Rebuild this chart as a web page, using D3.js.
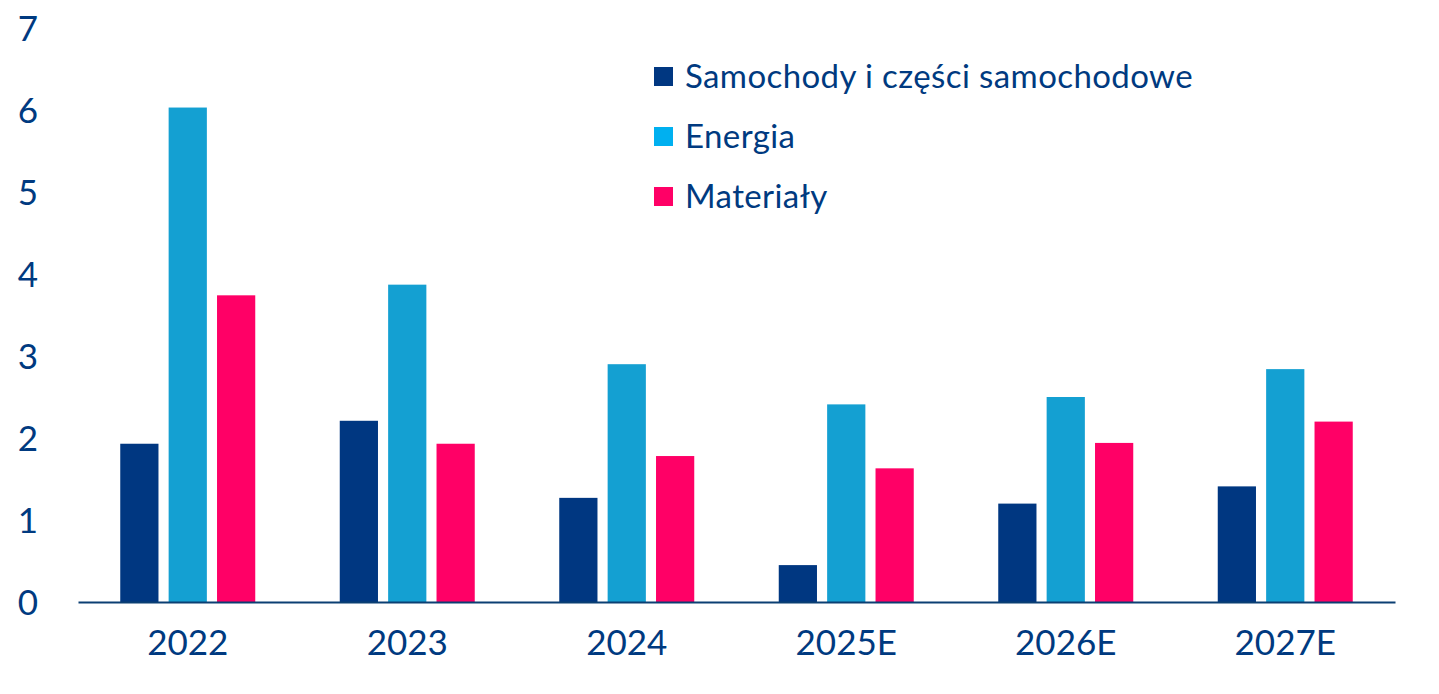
<!DOCTYPE html>
<html>
<head>
<meta charset="utf-8">
<script src="https://cdn.jsdelivr.net/npm/d3@7"></script>
<style>
  body { margin: 0; background: #fff; }
  text { font-family: Lato, "Noto Sans", sans-serif; fill: #003A80; }
</style>
</head>
<body>
<svg width="1439" height="694"></svg>
<script>
(function (d3) {
  'use strict';

  const years = ['2022', '2023', '2024', '2025E', '2026E', '2027E'];
  const seriesNames = ['Samochody i części samochodowe', 'Energia', 'Materiały'];
  const samochody = [1.93, 2.21, 1.27, 0.45, 1.20, 1.41];
  const energia = [6.03, 3.87, 2.90, 2.41, 2.50, 2.84];
  const materialy = [3.74, 1.93, 1.78, 1.63, 1.94, 2.20];
  const yTicks = [0, 1, 2, 3, 4, 5, 6, 7];

  const barColors = ['#003781', '#14A0D2', '#FF0066'];
  const swatchColors = ['#003781', '#00B0F0', '#FF0066'];

  const svg = d3.select('svg');
  const margin = {top: 28, right: 44, bottom: 92, left: 78};
  const width = +svg.attr('width');
  const height = +svg.attr('height');
  const innerWidth = width - margin.left - margin.right;
  const innerHeight = height - margin.top - margin.bottom;

  const rows = years.map((y, i) => ({
    year: y,
    values: [samochody[i], energia[i], materialy[i]]
  }));

  const xScale = d3.scaleBand()
      .domain(years)
      .range([0, innerWidth])
      .paddingInner(0)
      .paddingOuter(0);

  // three bars of ~38px with ~10px gaps inside each 219px band
  const groupWidth = 135;
  const xInner = d3.scaleBand()
      .domain(d3.range(3))
      .range([0, groupWidth])
      .paddingInner(0.21);

  const yScale = d3.scaleLinear()
      .domain([0, 7])
      .range([innerHeight, 0]);

  const g = svg.append('g')
      .attr('transform', `translate(${margin.left},${margin.top})`);

  // y axis labels
  const yAxis = d3.axisLeft(yScale)
      .tickValues(yTicks)
      .tickSize(0)
      .tickPadding(40)
      .tickFormat(d3.format('d'));
  const yAxisG = g.append('g').call(yAxis);
  yAxisG.select('.domain').remove();
  yAxisG.selectAll('text')
      .style('font-size', '35px')
      .attr('dy', '0.36em');

  // bars
  const groups = g.selectAll('.year').data(rows)
    .enter().append('g')
      .attr('class', 'year')
      .attr('transform', d => `translate(${xScale(d.year) + (xScale.bandwidth() - groupWidth) / 2},0)`);

  groups.selectAll('rect').data(d => d.values)
    .enter().append('rect')
      .attr('x', (d, i) => xInner(i))
      .attr('width', xInner.bandwidth())
      .attr('y', d => yScale(d))
      .attr('height', d => innerHeight - yScale(d))
      .attr('fill', (d, i) => barColors[i]);

  // x axis
  const xAxis = d3.axisBottom(xScale).tickSize(0).tickPadding(40);
  const xAxisG = g.append('g')
      .attr('transform', `translate(0,${innerHeight})`)
      .call(xAxis);
  xAxisG.select('.domain')
      .attr('stroke', '#0B3F73')
      .attr('stroke-width', 2.2);
  xAxisG.selectAll('text')
      .style('font-size', '35px')
      .attr('dy', '0.36em');

  // legend
  const legend = svg.append('g')
      .attr('transform', 'translate(654,67)');
  const items = legend.selectAll('g').data(seriesNames)
    .enter().append('g')
      .attr('transform', (d, i) => `translate(0,${i * 60})`);
  items.append('rect')
      .attr('width', 19)
      .attr('height', 19)
      .attr('fill', (d, i) => swatchColors[i]);
  items.append('text')
      .attr('x', 31)
      .attr('y', 21)
      .style('font-size', '33px')
      .style('letter-spacing', '0.4px')
      .text(d => d);

}(d3));
</script>
</body>
</html>
